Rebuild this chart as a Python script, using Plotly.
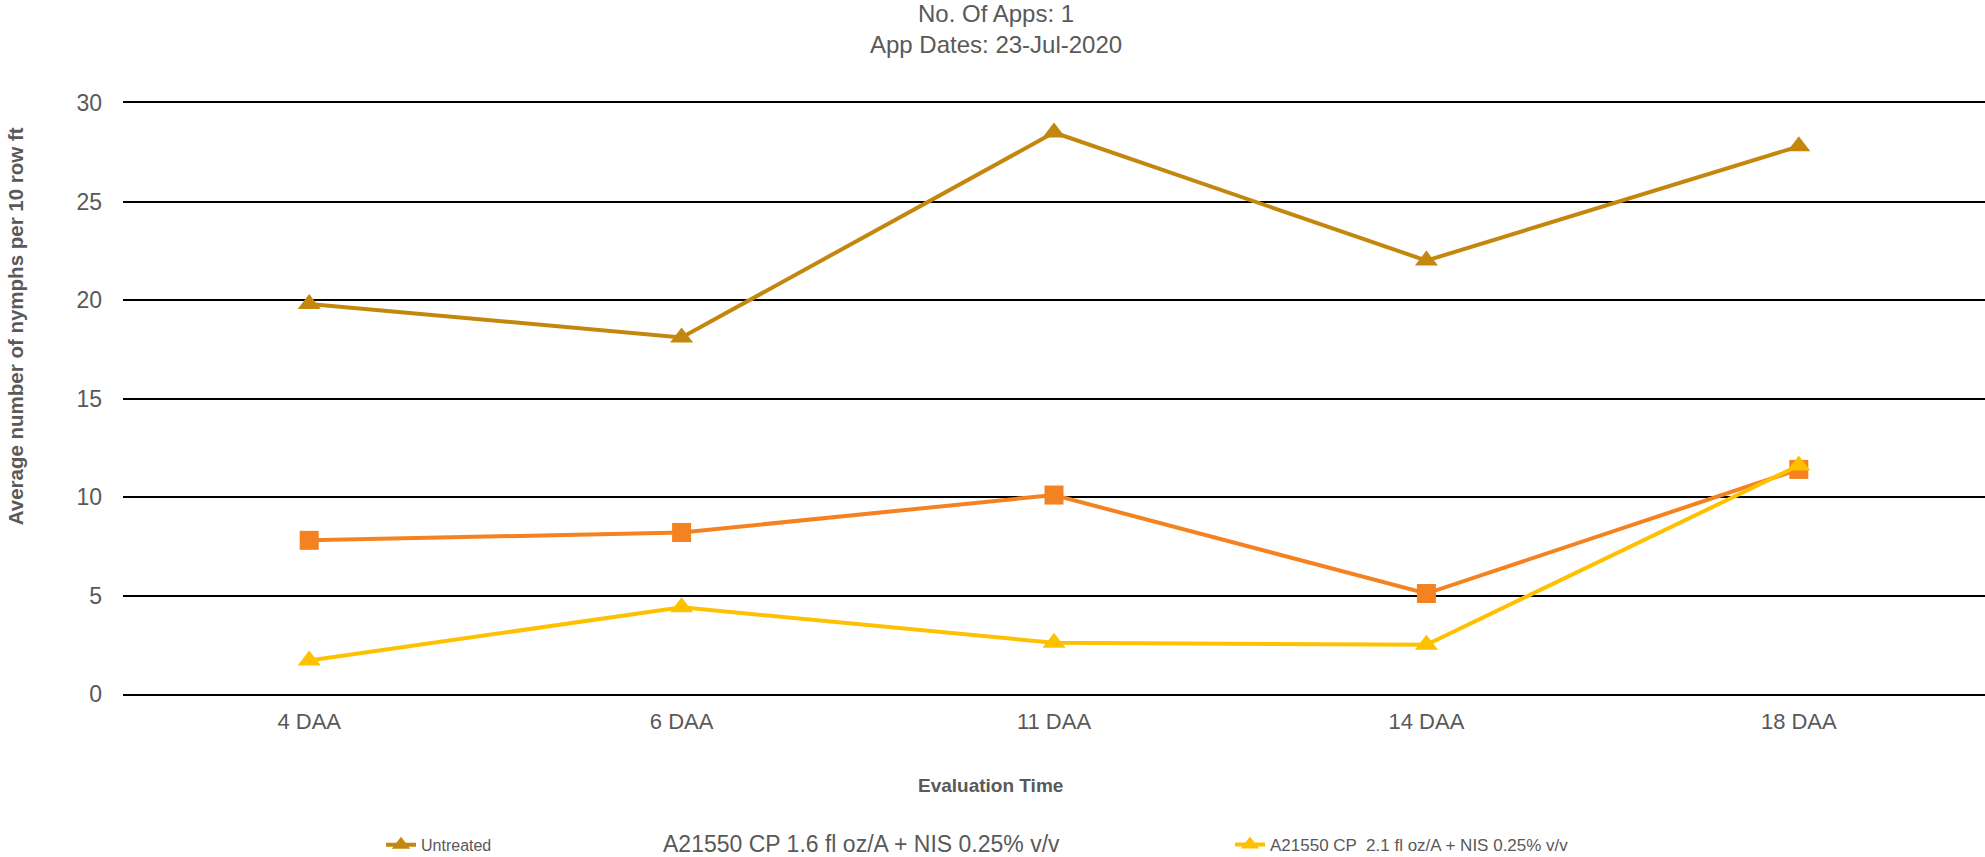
import plotly.graph_objects as go

# Evaluation times and average nymph counts per 10 row ft
eval_times = ["4 DAA", "6 DAA", "11 DAA", "14 DAA", "18 DAA"]
untreated = [19.8, 18.1, 28.5, 22.0, 27.8]
cp_1_6 = [7.8, 8.2, 10.1, 5.1, 11.4]
cp_2_1 = [1.7, 4.4, 2.6, 2.5, 11.6]

name_untreated = "Untreated"
name_1_6 = "A21550 CP 1.6 fl oz/A + NIS 0.25% v/v"
name_2_1 = "A21550 CP  2.1 fl oz/A + NIS 0.25% v/v"

title_lines = ["No. Of Apps: 1", "App Dates: 23-Jul-2020"]
y_ticks = [0, 5, 10, 15, 20, 25, 30]

FONT = "Liberation Sans, Arial, sans-serif"
GREY = "#595959"
C_UNT = "#C4870E"
C_16 = "#F58220"
C_21 = "#FFC000"

fig = go.Figure()

fig.add_trace(go.Scatter(
    x=eval_times, y=untreated, name=name_untreated, mode="lines+markers",
    line=dict(color=C_UNT, width=4),
    marker=dict(symbol="triangle-up", size=20, color=C_UNT),
    legend="legend",
))
fig.add_trace(go.Scatter(
    x=eval_times, y=cp_1_6, name=name_1_6, mode="lines+markers",
    line=dict(color=C_16, width=4),
    marker=dict(symbol="square", size=19, color=C_16),
    showlegend=False,
))
fig.add_trace(go.Scatter(
    x=eval_times, y=cp_2_1, name=name_2_1, mode="lines+markers",
    line=dict(color=C_21, width=4),
    marker=dict(symbol="triangle-up", size=20, color=C_21),
    legend="legend2",
))

plot_left, plot_right, plot_top, plot_bottom = 123, 1985, 102.5, 694
W, H = 1985, 857
pw = plot_right - plot_left
ph = plot_bottom - plot_top


def px_x(x):
    return (x - plot_left) / pw


def px_y(y):
    return (plot_bottom - y) / ph


annotations = [
    dict(text=title_lines[0], xref="paper", yref="paper",
         x=px_x(996), y=px_y(13), xanchor="center", yanchor="middle",
         showarrow=False, font=dict(size=24, color=GREY)),
    dict(text=title_lines[1], xref="paper", yref="paper",
         x=px_x(996), y=px_y(44), xanchor="center", yanchor="middle",
         showarrow=False, font=dict(size=24, color=GREY)),
    dict(text="<b>Average number of nymphs per 10 row ft</b>",
         textangle=-90, xref="paper", yref="paper",
         x=px_x(15), y=px_y(326), xanchor="center", yanchor="middle",
         showarrow=False, font=dict(size=20.5, color=GREY)),
    dict(text="<b>Evaluation Time</b>",
         xref="paper", yref="paper",
         x=px_x(990), y=px_y(786), xanchor="center", yanchor="middle",
         showarrow=False, font=dict(size=19, color=GREY)),
    dict(text=name_1_6,
         xref="paper", yref="paper",
         x=px_x(661), y=px_y(844), xanchor="left", yanchor="middle",
         showarrow=False, font=dict(size=23, color=GREY)),
]

fig.update_layout(
    width=W, height=H,
    margin=dict(l=plot_left, r=W - plot_right, t=plot_top, b=H - plot_bottom,
                autoexpand=False),
    paper_bgcolor="white", plot_bgcolor="white",
    font=dict(family=FONT, color=GREY),
    xaxis=dict(
        type="category", range=[-0.5, 4.5],
        showgrid=False, zeroline=False,
        showline=True, mirror=True, linecolor="black", linewidth=1.6,
        tickfont=dict(size=22, color=GREY),
        ticklabelstandoff=7,
    ),
    yaxis=dict(
        range=[0, 30], tickvals=y_ticks,
        showgrid=True, gridcolor="black", gridwidth=1.6,
        zeroline=True, zerolinecolor="black", zerolinewidth=1.6,
        showline=False,
        tickfont=dict(size=23, color=GREY),
        ticklabelstandoff=20,
    ),
    legend=dict(
        orientation="h", x=px_x(381), xanchor="left",
        y=px_y(845), yanchor="middle",
        font=dict(size=16, color=GREY), bgcolor="rgba(0,0,0,0)",
    ),
    legend2=dict(
        orientation="h", x=px_x(1230), xanchor="left",
        y=px_y(845), yanchor="middle",
        font=dict(size=17, color=GREY), bgcolor="rgba(0,0,0,0)",
    ),
    annotations=annotations,
)

fig.write_html("out.html")
